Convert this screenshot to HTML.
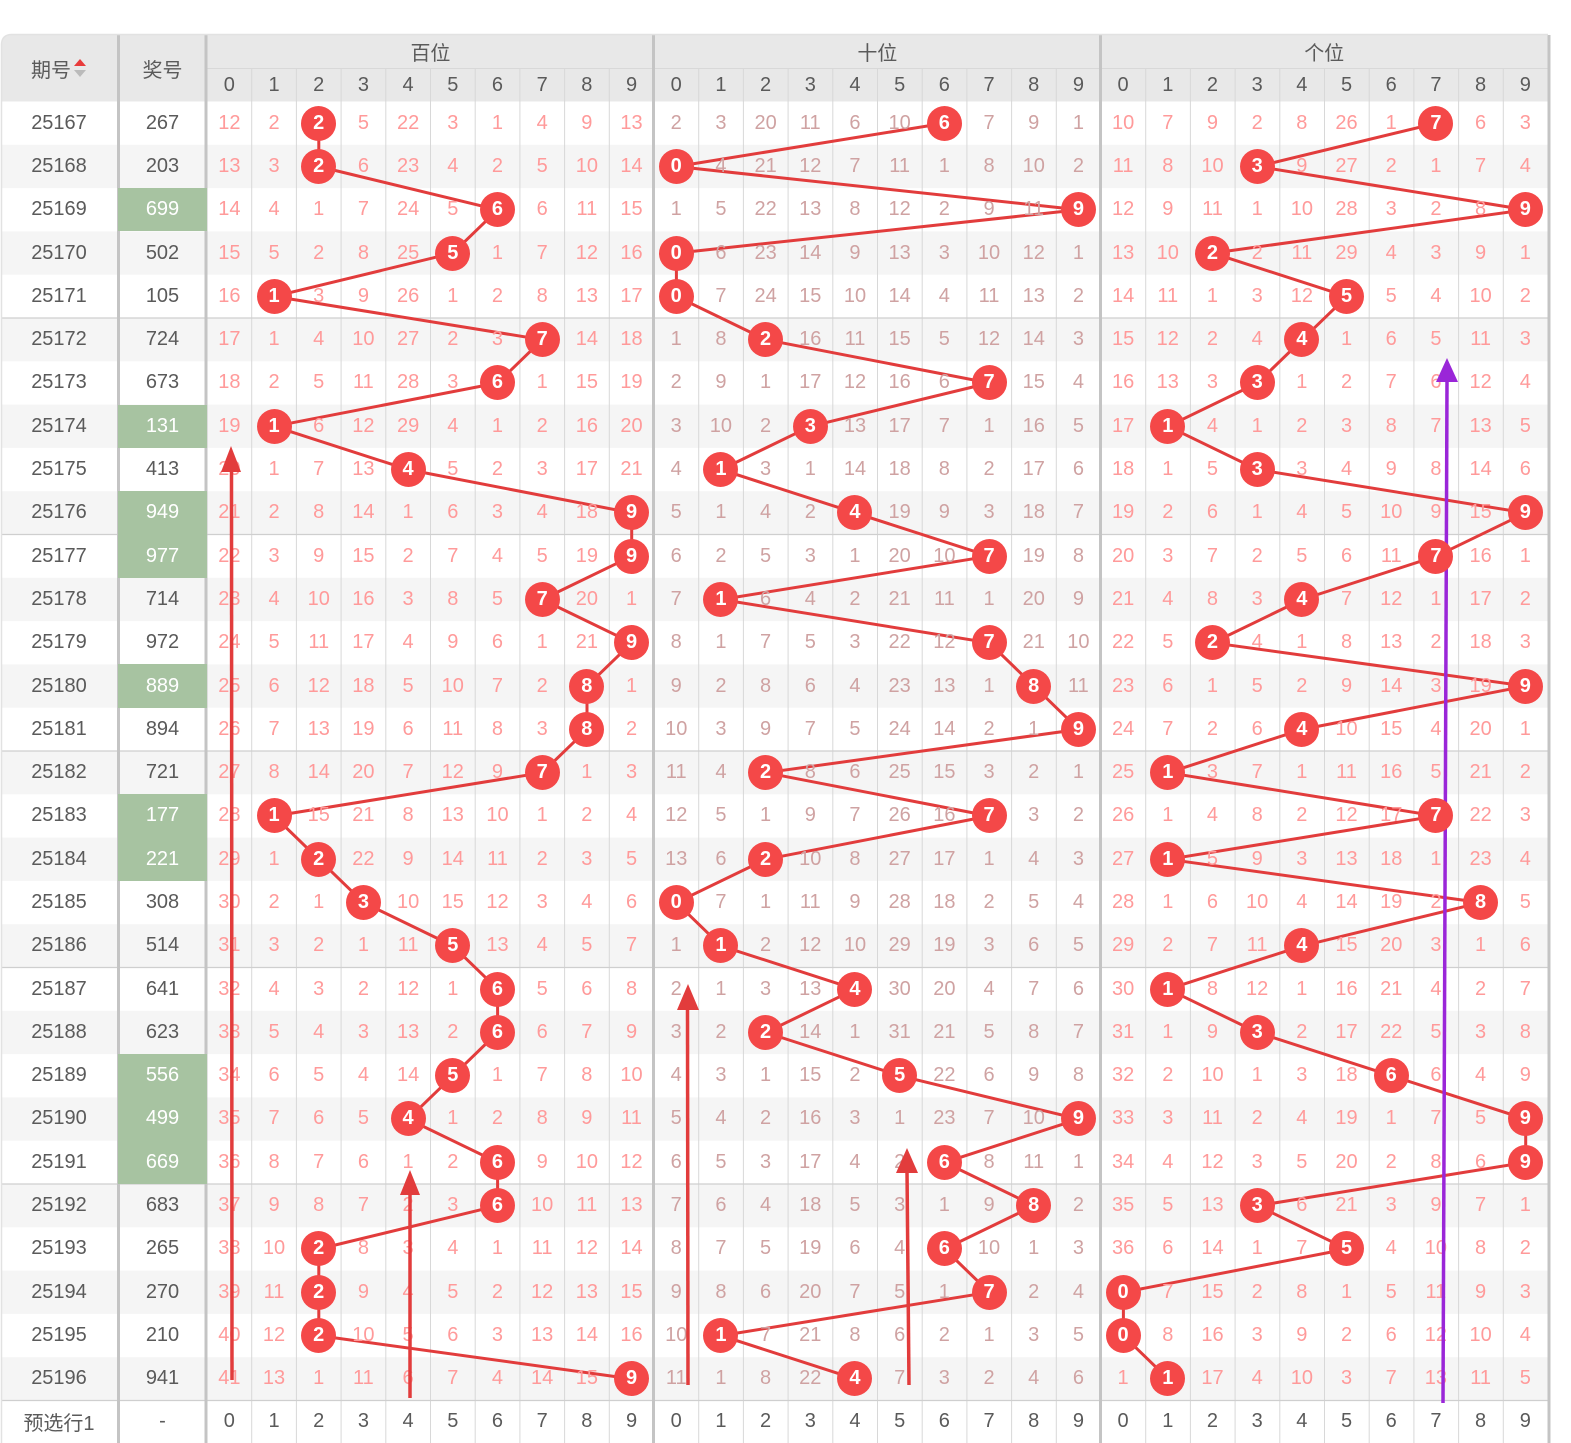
<!DOCTYPE html>
<html><head><meta charset="utf-8">
<style>
html,body{margin:0;padding:0;background:#fff;width:1571px;height:1443px;overflow:hidden}
#bg,#fg{position:absolute;left:0;top:0}
#fg{pointer-events:none}
table{position:absolute;left:0;top:35px;display:grid;grid-template-columns:118px 89px repeat(30,44.7px);grid-template-rows:33.5px 33px repeat(30,43.3px) 42px;width:1548px;font-family:"Liberation Sans","Noto Sans CJK SC",sans-serif;font-size:20px}
tbody,tr{display:contents}
td{padding:0;display:flex;align-items:center;justify-content:center;color:#ff9a9a;white-space:nowrap;overflow:visible}
td:nth-child(1),td:nth-child(2){color:#5a5a5a}
tr.d td:nth-child(n+13):nth-child(-n+22){color:#cfa2a2}
tr.h td{color:#5a5a5a}
td.r2{grid-row:span 2}
td.c10{grid-column:span 10}
tr.f td{color:#5a5a5a}
td.g{background:#a7c3a1;color:#fff!important}
td.b i{font-style:normal;display:inline-block;width:35px;height:35px;line-height:35px;text-align:center;border-radius:50%;background:#f44848;color:#fff;font-weight:bold;position:relative;z-index:2}
</style></head><body>
<svg id="bg" width="1571" height="1443">
<path d="M2 45 Q2 35 12 35 L1548 35 L1548 101.5 L2 101.5 Z" fill="#e8e8e8"/>
<g fill="#f5f5f5">
<rect x="2" y="144.8" width="1546" height="43.3"/><rect x="2" y="231.4" width="1546" height="43.3"/><rect x="2" y="318" width="1546" height="43.3"/><rect x="2" y="404.6" width="1546" height="43.3"/><rect x="2" y="491.2" width="1546" height="43.3"/><rect x="2" y="577.8" width="1546" height="43.3"/><rect x="2" y="664.4" width="1546" height="43.3"/><rect x="2" y="751" width="1546" height="43.3"/><rect x="2" y="837.6" width="1546" height="43.3"/><rect x="2" y="924.2" width="1546" height="43.3"/><rect x="2" y="1010.8" width="1546" height="43.3"/><rect x="2" y="1097.4" width="1546" height="43.3"/><rect x="2" y="1184" width="1546" height="43.3"/><rect x="2" y="1270.6" width="1546" height="43.3"/><rect x="2" y="1357.2" width="1546" height="43.3"/>
</g>
<g stroke="#d8d8d8" stroke-width="1">
<path d="M251.7 68V1443M296.4 68V1443M341.1 68V1443M385.8 68V1443M430.5 68V1443M475.2 68V1443M519.9 68V1443M564.6 68V1443M609.3 68V1443"/>
<path d="M698.7 68V1443M743.4 68V1443M788.1 68V1443M832.8 68V1443M877.5 68V1443M922.2 68V1443M966.9 68V1443M1011.6 68V1443M1056.3 68V1443"/>
<path d="M1145.7 68V1443M1190.4 68V1443M1235.1 68V1443M1279.8 68V1443M1324.5 68V1443M1369.2 68V1443M1413.9 68V1443M1458.6 68V1443M1503.3 68V1443"/>
<path d="M207 68.5H1548"/>
</g>
<g stroke="#cfcfcf" stroke-width="1.3">
<path d="M2 318H1548M2 534.5H1548M2 751H1548M2 967.5H1548M2 1184H1548M2 1400.5H1548"/>
</g>
<g stroke="#c4c4c4" stroke-width="3">
<path d="M118.5 35V1443M206 35V1443M653.5 35V1443M1100.5 35V1443M1549 35V1443"/>
</g>
<path d="M1.5 1443V45Q1.5 34.5 12 34.5H1548" fill="none" stroke="#e2e2e2" stroke-width="1.5"/>
<g fill="none" stroke="#e23c3c" stroke-width="3" stroke-linejoin="round">
<polyline vector-effect="non-scaling-stroke" transform="translate(229.4,123.2) scale(44.7,43.3)" points="2,0 2,1 6,2 5,3 1,4 7,5 6,6 1,7 4,8 9,9 9,10 7,11 9,12 8,13 8,14 7,15 1,16 2,17 3,18 5,19 6,20 6,21 5,22 4,23 6,24 6,25 2,26 2,27 2,28 9,29"/>
<polyline vector-effect="non-scaling-stroke" transform="translate(676.4,123.2) scale(44.7,43.3)" points="6,0 0,1 9,2 0,3 0,4 2,5 7,6 3,7 1,8 4,9 7,10 1,11 7,12 8,13 9,14 2,15 7,16 2,17 0,18 1,19 4,20 2,21 5,22 9,23 6,24 8,25 6,26 7,27 1,28 4,29"/>
<polyline vector-effect="non-scaling-stroke" transform="translate(1123.4,123.2) scale(44.7,43.3)" points="7,0 3,1 9,2 2,3 5,4 4,5 3,6 1,7 3,8 9,9 7,10 4,11 2,12 9,13 4,14 1,15 7,16 1,17 8,18 4,19 1,20 3,21 6,22 9,23 9,24 3,25 5,26 0,27 0,28 1,29"/>
</g>
</svg>
<table>
<tr class="h"><td class="r2">期号<svg width="14" height="22" viewBox="0 0 14 22" style="margin-left:2px"><path d="M1 9L7 2L13 9Z" fill="#e83b3b"/><path d="M1 13L13 13L7 20Z" fill="#bbb"/></svg><td class="r2">奖号<td class="c10">百位<td class="c10">十位<td class="c10">个位
<tr class="h"><td>0<td>1<td>2<td>3<td>4<td>5<td>6<td>7<td>8<td>9<td>0<td>1<td>2<td>3<td>4<td>5<td>6<td>7<td>8<td>9<td>0<td>1<td>2<td>3<td>4<td>5<td>6<td>7<td>8<td>9
<tr class="d"><td>25167<td>267<td>12<td>2<td class="b"><i>2</i><td>5<td>22<td>3<td>1<td>4<td>9<td>13<td>2<td>3<td>20<td>11<td>6<td>10<td class="b"><i>6</i><td>7<td>9<td>1<td>10<td>7<td>9<td>2<td>8<td>26<td>1<td class="b"><i>7</i><td>6<td>3
<tr class="d"><td>25168<td>203<td>13<td>3<td class="b"><i>2</i><td>6<td>23<td>4<td>2<td>5<td>10<td>14<td class="b"><i>0</i><td>4<td>21<td>12<td>7<td>11<td>1<td>8<td>10<td>2<td>11<td>8<td>10<td class="b"><i>3</i><td>9<td>27<td>2<td>1<td>7<td>4
<tr class="d"><td>25169<td class="g">699<td>14<td>4<td>1<td>7<td>24<td>5<td class="b"><i>6</i><td>6<td>11<td>15<td>1<td>5<td>22<td>13<td>8<td>12<td>2<td>9<td>11<td class="b"><i>9</i><td>12<td>9<td>11<td>1<td>10<td>28<td>3<td>2<td>8<td class="b"><i>9</i>
<tr class="d"><td>25170<td>502<td>15<td>5<td>2<td>8<td>25<td class="b"><i>5</i><td>1<td>7<td>12<td>16<td class="b"><i>0</i><td>6<td>23<td>14<td>9<td>13<td>3<td>10<td>12<td>1<td>13<td>10<td class="b"><i>2</i><td>2<td>11<td>29<td>4<td>3<td>9<td>1
<tr class="d"><td>25171<td>105<td>16<td class="b"><i>1</i><td>3<td>9<td>26<td>1<td>2<td>8<td>13<td>17<td class="b"><i>0</i><td>7<td>24<td>15<td>10<td>14<td>4<td>11<td>13<td>2<td>14<td>11<td>1<td>3<td>12<td class="b"><i>5</i><td>5<td>4<td>10<td>2
<tr class="d"><td>25172<td>724<td>17<td>1<td>4<td>10<td>27<td>2<td>3<td class="b"><i>7</i><td>14<td>18<td>1<td>8<td class="b"><i>2</i><td>16<td>11<td>15<td>5<td>12<td>14<td>3<td>15<td>12<td>2<td>4<td class="b"><i>4</i><td>1<td>6<td>5<td>11<td>3
<tr class="d"><td>25173<td>673<td>18<td>2<td>5<td>11<td>28<td>3<td class="b"><i>6</i><td>1<td>15<td>19<td>2<td>9<td>1<td>17<td>12<td>16<td>6<td class="b"><i>7</i><td>15<td>4<td>16<td>13<td>3<td class="b"><i>3</i><td>1<td>2<td>7<td>6<td>12<td>4
<tr class="d"><td>25174<td class="g">131<td>19<td class="b"><i>1</i><td>6<td>12<td>29<td>4<td>1<td>2<td>16<td>20<td>3<td>10<td>2<td class="b"><i>3</i><td>13<td>17<td>7<td>1<td>16<td>5<td>17<td class="b"><i>1</i><td>4<td>1<td>2<td>3<td>8<td>7<td>13<td>5
<tr class="d"><td>25175<td>413<td>20<td>1<td>7<td>13<td class="b"><i>4</i><td>5<td>2<td>3<td>17<td>21<td>4<td class="b"><i>1</i><td>3<td>1<td>14<td>18<td>8<td>2<td>17<td>6<td>18<td>1<td>5<td class="b"><i>3</i><td>3<td>4<td>9<td>8<td>14<td>6
<tr class="d"><td>25176<td class="g">949<td>21<td>2<td>8<td>14<td>1<td>6<td>3<td>4<td>18<td class="b"><i>9</i><td>5<td>1<td>4<td>2<td class="b"><i>4</i><td>19<td>9<td>3<td>18<td>7<td>19<td>2<td>6<td>1<td>4<td>5<td>10<td>9<td>15<td class="b"><i>9</i>
<tr class="d"><td>25177<td class="g">977<td>22<td>3<td>9<td>15<td>2<td>7<td>4<td>5<td>19<td class="b"><i>9</i><td>6<td>2<td>5<td>3<td>1<td>20<td>10<td class="b"><i>7</i><td>19<td>8<td>20<td>3<td>7<td>2<td>5<td>6<td>11<td class="b"><i>7</i><td>16<td>1
<tr class="d"><td>25178<td>714<td>23<td>4<td>10<td>16<td>3<td>8<td>5<td class="b"><i>7</i><td>20<td>1<td>7<td class="b"><i>1</i><td>6<td>4<td>2<td>21<td>11<td>1<td>20<td>9<td>21<td>4<td>8<td>3<td class="b"><i>4</i><td>7<td>12<td>1<td>17<td>2
<tr class="d"><td>25179<td>972<td>24<td>5<td>11<td>17<td>4<td>9<td>6<td>1<td>21<td class="b"><i>9</i><td>8<td>1<td>7<td>5<td>3<td>22<td>12<td class="b"><i>7</i><td>21<td>10<td>22<td>5<td class="b"><i>2</i><td>4<td>1<td>8<td>13<td>2<td>18<td>3
<tr class="d"><td>25180<td class="g">889<td>25<td>6<td>12<td>18<td>5<td>10<td>7<td>2<td class="b"><i>8</i><td>1<td>9<td>2<td>8<td>6<td>4<td>23<td>13<td>1<td class="b"><i>8</i><td>11<td>23<td>6<td>1<td>5<td>2<td>9<td>14<td>3<td>19<td class="b"><i>9</i>
<tr class="d"><td>25181<td>894<td>26<td>7<td>13<td>19<td>6<td>11<td>8<td>3<td class="b"><i>8</i><td>2<td>10<td>3<td>9<td>7<td>5<td>24<td>14<td>2<td>1<td class="b"><i>9</i><td>24<td>7<td>2<td>6<td class="b"><i>4</i><td>10<td>15<td>4<td>20<td>1
<tr class="d"><td>25182<td>721<td>27<td>8<td>14<td>20<td>7<td>12<td>9<td class="b"><i>7</i><td>1<td>3<td>11<td>4<td class="b"><i>2</i><td>8<td>6<td>25<td>15<td>3<td>2<td>1<td>25<td class="b"><i>1</i><td>3<td>7<td>1<td>11<td>16<td>5<td>21<td>2
<tr class="d"><td>25183<td class="g">177<td>28<td class="b"><i>1</i><td>15<td>21<td>8<td>13<td>10<td>1<td>2<td>4<td>12<td>5<td>1<td>9<td>7<td>26<td>16<td class="b"><i>7</i><td>3<td>2<td>26<td>1<td>4<td>8<td>2<td>12<td>17<td class="b"><i>7</i><td>22<td>3
<tr class="d"><td>25184<td class="g">221<td>29<td>1<td class="b"><i>2</i><td>22<td>9<td>14<td>11<td>2<td>3<td>5<td>13<td>6<td class="b"><i>2</i><td>10<td>8<td>27<td>17<td>1<td>4<td>3<td>27<td class="b"><i>1</i><td>5<td>9<td>3<td>13<td>18<td>1<td>23<td>4
<tr class="d"><td>25185<td>308<td>30<td>2<td>1<td class="b"><i>3</i><td>10<td>15<td>12<td>3<td>4<td>6<td class="b"><i>0</i><td>7<td>1<td>11<td>9<td>28<td>18<td>2<td>5<td>4<td>28<td>1<td>6<td>10<td>4<td>14<td>19<td>2<td class="b"><i>8</i><td>5
<tr class="d"><td>25186<td>514<td>31<td>3<td>2<td>1<td>11<td class="b"><i>5</i><td>13<td>4<td>5<td>7<td>1<td class="b"><i>1</i><td>2<td>12<td>10<td>29<td>19<td>3<td>6<td>5<td>29<td>2<td>7<td>11<td class="b"><i>4</i><td>15<td>20<td>3<td>1<td>6
<tr class="d"><td>25187<td>641<td>32<td>4<td>3<td>2<td>12<td>1<td class="b"><i>6</i><td>5<td>6<td>8<td>2<td>1<td>3<td>13<td class="b"><i>4</i><td>30<td>20<td>4<td>7<td>6<td>30<td class="b"><i>1</i><td>8<td>12<td>1<td>16<td>21<td>4<td>2<td>7
<tr class="d"><td>25188<td>623<td>33<td>5<td>4<td>3<td>13<td>2<td class="b"><i>6</i><td>6<td>7<td>9<td>3<td>2<td class="b"><i>2</i><td>14<td>1<td>31<td>21<td>5<td>8<td>7<td>31<td>1<td>9<td class="b"><i>3</i><td>2<td>17<td>22<td>5<td>3<td>8
<tr class="d"><td>25189<td class="g">556<td>34<td>6<td>5<td>4<td>14<td class="b"><i>5</i><td>1<td>7<td>8<td>10<td>4<td>3<td>1<td>15<td>2<td class="b"><i>5</i><td>22<td>6<td>9<td>8<td>32<td>2<td>10<td>1<td>3<td>18<td class="b"><i>6</i><td>6<td>4<td>9
<tr class="d"><td>25190<td class="g">499<td>35<td>7<td>6<td>5<td class="b"><i>4</i><td>1<td>2<td>8<td>9<td>11<td>5<td>4<td>2<td>16<td>3<td>1<td>23<td>7<td>10<td class="b"><i>9</i><td>33<td>3<td>11<td>2<td>4<td>19<td>1<td>7<td>5<td class="b"><i>9</i>
<tr class="d"><td>25191<td class="g">669<td>36<td>8<td>7<td>6<td>1<td>2<td class="b"><i>6</i><td>9<td>10<td>12<td>6<td>5<td>3<td>17<td>4<td>2<td class="b"><i>6</i><td>8<td>11<td>1<td>34<td>4<td>12<td>3<td>5<td>20<td>2<td>8<td>6<td class="b"><i>9</i>
<tr class="d"><td>25192<td>683<td>37<td>9<td>8<td>7<td>2<td>3<td class="b"><i>6</i><td>10<td>11<td>13<td>7<td>6<td>4<td>18<td>5<td>3<td>1<td>9<td class="b"><i>8</i><td>2<td>35<td>5<td>13<td class="b"><i>3</i><td>6<td>21<td>3<td>9<td>7<td>1
<tr class="d"><td>25193<td>265<td>38<td>10<td class="b"><i>2</i><td>8<td>3<td>4<td>1<td>11<td>12<td>14<td>8<td>7<td>5<td>19<td>6<td>4<td class="b"><i>6</i><td>10<td>1<td>3<td>36<td>6<td>14<td>1<td>7<td class="b"><i>5</i><td>4<td>10<td>8<td>2
<tr class="d"><td>25194<td>270<td>39<td>11<td class="b"><i>2</i><td>9<td>4<td>5<td>2<td>12<td>13<td>15<td>9<td>8<td>6<td>20<td>7<td>5<td>1<td class="b"><i>7</i><td>2<td>4<td class="b"><i>0</i><td>7<td>15<td>2<td>8<td>1<td>5<td>11<td>9<td>3
<tr class="d"><td>25195<td>210<td>40<td>12<td class="b"><i>2</i><td>10<td>5<td>6<td>3<td>13<td>14<td>16<td>10<td class="b"><i>1</i><td>7<td>21<td>8<td>6<td>2<td>1<td>3<td>5<td class="b"><i>0</i><td>8<td>16<td>3<td>9<td>2<td>6<td>12<td>10<td>4
<tr class="d"><td>25196<td>941<td>41<td>13<td>1<td>11<td>6<td>7<td>4<td>14<td>15<td class="b"><i>9</i><td>11<td>1<td>8<td>22<td class="b"><i>4</i><td>7<td>3<td>2<td>4<td>6<td>1<td class="b"><i>1</i><td>17<td>4<td>10<td>3<td>7<td>13<td>11<td>5
<tr class="f"><td>预选行1<td>-<td>0<td>1<td>2<td>3<td>4<td>5<td>6<td>7<td>8<td>9<td>0<td>1<td>2<td>3<td>4<td>5<td>6<td>7<td>8<td>9<td>0<td>1<td>2<td>3<td>4<td>5<td>6<td>7<td>8<td>9
</table>
<svg id="fg" width="1571" height="1443">
<g stroke="#e23c3c" stroke-width="3.5">
<path d="M232 1380L231.5 470"/><path d="M410 1398L410 1192"/><path d="M688 1385L687.5 1008"/><path d="M909 1385L907 1170"/>
</g>
<g fill="#e23c3c">
<path d="M231 446L221 472L241 472Z"/><path d="M410 1170L400 1195L420 1195Z"/><path d="M688 984L677 1010L699 1010Z"/><path d="M907 1148L896 1173L918 1173Z"/>
</g>
<path d="M1443 1403L1447 382" stroke="#9a26d8" stroke-width="3.5"/>
<path d="M1447 358L1436 382L1458 382Z" fill="#9a26d8"/>
</svg>
</body></html>
